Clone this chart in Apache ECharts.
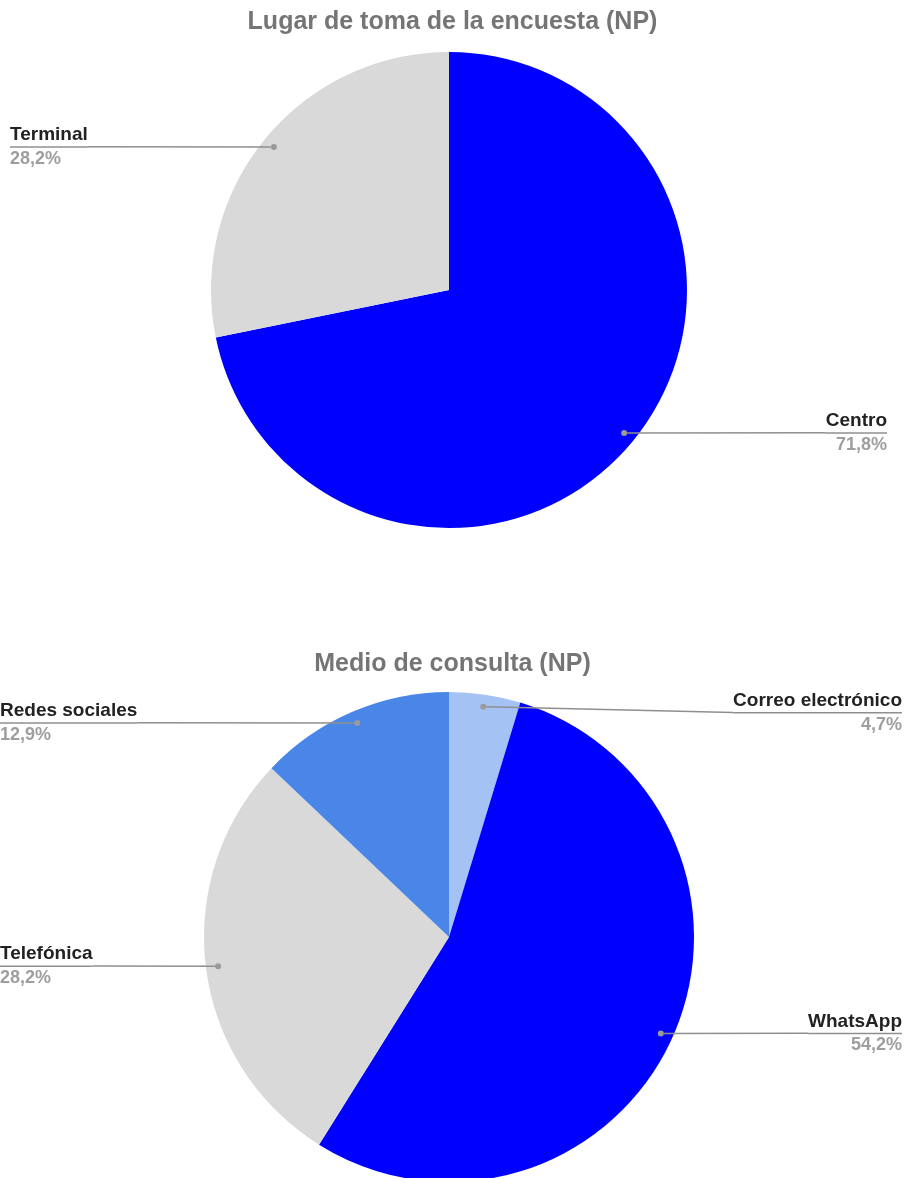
<!DOCTYPE html>
<html>
<head>
<meta charset="utf-8">
<script src="https://cdn.jsdelivr.net/npm/echarts@6/dist/echarts.min.js"></script>
<style>
html, body { margin: 0; padding: 0; background: #fff; }
#main { width: 905px; height: 1178px; }
</style>
</head>
<body>
<div id="main"></div>
<script>
// datos
var lugarNames = ['Centro', 'Terminal'];
var lugarValues = [71.8, 28.2];
var lugarColors = ['#0000ff', '#d9d9d9'];

var medioNames = ['Correo electrónico', 'WhatsApp', 'Telefónica', 'Redes sociales'];
var medioValues = [4.7, 54.2, 28.2, 12.9];
var medioColors = ['#a4c2f4', '#0000ff', '#d9d9d9', '#4a86e8'];

var FONT = '"Liberation Sans", Arial, sans-serif';
var LINE = '#8f8f8f';

var pies = [
  { title: 'Lugar de toma de la encuesta (NP)', names: lugarNames, values: lugarValues, colors: lugarColors,
    center: [449, 290], radius: 238, titleTop: 5, edgeL: 10, edgeR: 887, dy: [0, 0] },
  { title: 'Medio de consulta (NP)', names: medioNames, values: medioValues, colors: medioColors,
    center: [449, 937], radius: 245, titleTop: 647, edgeL: 0, edgeR: 902, dy: [6, 0, 0, 0] }
];

// punto medio de cada porción (en % del círculo)
function mids(values) {
  var total = values.reduce(function (a, b) { return a + b; }, 0);
  var acc = 0, out = [];
  values.forEach(function (v) {
    out.push((acc + v / 2) / total * 100);
    acc += v;
  });
  return out;
}

var myChart = echarts.init(document.getElementById('main'));

var titles = [], polars = [], angleAxes = [], radiusAxes = [], series = [];
pies.forEach(function (p, i) {
  titles.push({
    text: p.title, left: 'center', top: p.titleTop,
    textStyle: { fontSize: 25, fontWeight: 'bold', color: '#757575', fontFamily: FONT }
  });
  polars.push({ center: p.center, radius: p.radius });
  angleAxes.push({ polarIndex: i, type: 'value', min: 0, max: 100, startAngle: 90, clockwise: true, show: false });
  radiusAxes.push({ polarIndex: i, type: 'value', min: 0, max: 1, show: false });
  series.push({
    type: 'pie',
    center: p.center,
    radius: p.radius,
    startAngle: 90,
    clockwise: true,
    z: 1,
    emphasis: { disabled: true },
    itemStyle: { borderWidth: 0 },
    label: { show: false },
    labelLine: { show: false },
    data: p.names.map(function (n, k) {
      return { name: n, value: p.values[k], itemStyle: { color: p.colors[k] } };
    })
  });
});

// puntos + etiquetas sobre el sistema polar
pies.forEach(function (p, i) {
  var m = mids(p.values);
  series.push({
    type: 'scatter',
    coordinateSystem: 'polar',
    polarIndex: i,
    silent: true,
    z: 5,
    symbolSize: 6,
    itemStyle: { color: '#9a9a9a', opacity: 1 },
    data: p.names.map(function (n, k) {
      return { name: n, value: [0.95, m[k], p.values[k]] };
    }),
    label: {
      show: true,
      position: 'right',
      opacity: 1,
      fontFamily: FONT,
      formatter: function (d) {
        return '{n|' + d.name + '}\n{l|}\n{p|' + String(d.value[2]).replace('.', ',') + '%}';
      },
      rich: {
        n: { fontSize: 19, fontWeight: 'bold', color: '#222222', lineHeight: 22, fontFamily: FONT },
        l: { width: '100%', height: 1.5, lineHeight: 2, backgroundColor: LINE },
        p: { fontSize: 18, fontWeight: 'bold', color: '#9e9e9e', lineHeight: 22, fontFamily: FONT }
      }
    },
    labelLine: { show: true, length2: 0, lineStyle: { color: LINE, width: 1.5, opacity: 1 } }
  });
});

option = {
  animation: false,
  title: titles,
  polar: polars,
  angleAxis: angleAxes,
  radiusAxis: radiusAxes,
  series: series
};

myChart.setOption(option);

// posiciones de los puntos, convertidas por el sistema polar
var dotPx = pies.map(function (p, i) {
  return mids(p.values).map(function (m) {
    return myChart.convertToPixel({ polarIndex: i }, [0.95, m]);
  });
});

function layoutFor(i) {
  var p = pies[i];
  return function (params) {
    var k = params.dataIndex;
    var dot = dotPx[i][k];
    var left = dot[0] < p.center[0];
    return {
      x: left ? p.edgeL : p.edgeR,
      y: dot[1] + p.dy[k],
      align: left ? 'left' : 'right',
      verticalAlign: 'middle'
    };
  };
}

var upd = pies.map(function () { return {}; });
pies.forEach(function (p, i) { upd.push({ labelLayout: layoutFor(i) }); });
myChart.setOption({ series: upd });
</script>
</body>
</html>
